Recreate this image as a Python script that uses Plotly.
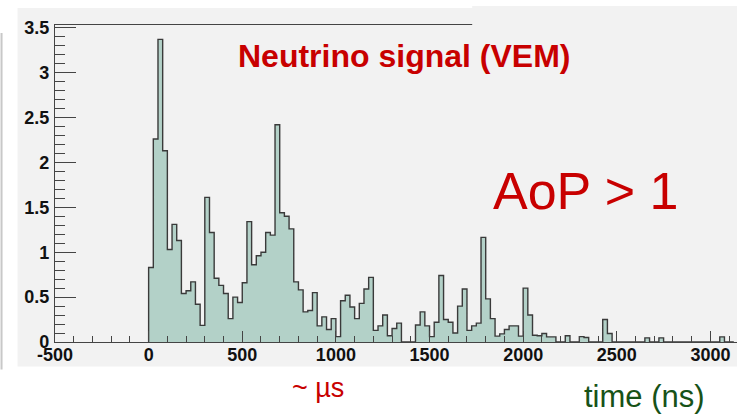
import plotly.graph_objects as go

# Neutrino-like trace: FADC signal in 25 ns bins starting at t = 0
BIN_WIDTH = 25
signal_vem = [
    0.83, 2.26, 3.37, 2.13, 1.03, 1.31, 1.13, 0.54, 0.57, 0.67,
    0.42, 0.185, 1.61, 1.22, 0.71, 0.63, 0.54, 0.26, 0.50, 0.44,
    0.66, 1.34, 0.86, 0.96, 1.00, 1.22, 1.19, 2.42, 1.44, 1.40,
    1.26, 0.67, 0.58, 0.335, 0.35, 0.55, 0.18, 0.28, 0.14, 0.26,
    0.06, 0.46, 0.52, 0.39, 0.26, 0.43, 0.59, 0.72, 0.13, 0.18,
    0.30, 0.07, 0.15, 0.21, 0.0, 0.0, 0.0, 0.19, 0.335, 0.18,
    0.06, 0.22, 0.74, 0.25, 0.22, 0.10, 0.40, 0.59, 0.13, 0.18,
    0.21, 1.165, 0.48, 0.26, 0.065, 0.09, 0.14, 0.18, 0.18, 0.065,
    0.60, 0.30, 0.076, 0.07, 0.095, 0.057, 0.057, 0.0, 0.0, 0.07,
    0.0, 0.0, 0.06, 0.05, 0.0, 0.0, 0.0, 0.25, 0.095, 0.0,
    0.0, 0.0, 0.0, 0.0, 0.0, 0.0, 0.046, 0.0, 0.0, 0.046,
    0.0, 0.0, 0.0, 0.0, 0.0, 0.0, 0.0, 0.0, 0.0, 0.0,
    0.0, 0.0, 0.057, 0.0, 0.0,
]

X_TICKS = [-500, 0, 500, 1000, 1500, 2000, 2500, 3000]
X_TICK_TEXT = ["-500", "0", "500", "1000", "1500", "2000", "2500", "3000"]
Y_TICKS = [0, 0.5, 1, 1.5, 2, 2.5, 3, 3.5]
Y_TICK_TEXT = ["0", "0.5", "1", "1.5", "2", "2.5", "3", "3.5"]

X_RANGE = [-500, 3142]
Y_RANGE = [0, 3.53]

# step outline of the histogram (ROOT style: one contour, no inner edges)
edges = [i * BIN_WIDTH for i in range(len(signal_vem) + 1)]
step_x = [0] + edges[:-1] + [edges[-1]]
step_y = [0] + signal_vem + [0]

FILL = "#B3D1C8"
OUTLINE = "#3A3A3A"
PANEL = "#F2F2F2"
AXIS = "#444444"
RED = "#C80000"
GREEN = "#175217"
SANS = "Liberation Sans, Arial, sans-serif"

W_PX, H_PX = 737, 419
L, T, R, B = 54.5, 25, 0, 76.5
PW = W_PX - L - R
PH = H_PX - T - B


def fx(p):
    return (p - L) / PW


def fy(p):
    return (H_PX - B - p) / PH


fig = go.Figure()
fig.add_trace(go.Scatter(
    x=step_x, y=step_y, mode="lines",
    line=dict(shape="hv", color=OUTLINE, width=1.4),
    fill="tozeroy", fillcolor=FILL,
    hoverinfo="skip", showlegend=False,
))

tickfont = dict(family=SANS, size=18, color="#111111", weight="bold")

fig.update_xaxes(
    range=X_RANGE, tickmode="array", tickvals=X_TICKS, ticktext=X_TICK_TEXT,
    ticks="inside", ticklen=11, tickwidth=1.2, tickcolor=AXIS,
    minor=dict(tickmode="linear", tick0=-500, dtick=100, ticks="inside",
               ticklen=6, tickwidth=1.2, tickcolor=AXIS),
    showline=True, linecolor=AXIS, linewidth=1.3, mirror=True,
    showgrid=False, zeroline=False, tickfont=tickfont,
    ticklabelstandoff=-4,
)
fig.update_yaxes(
    range=Y_RANGE, tickmode="array", tickvals=Y_TICKS, ticktext=Y_TICK_TEXT,
    ticks="inside", ticklen=21, tickwidth=1.2, tickcolor=AXIS,
    minor=dict(tickmode="linear", tick0=0, dtick=0.1, ticks="inside",
               ticklen=10, tickwidth=1.2, tickcolor=AXIS),
    showline=True, linecolor=AXIS, linewidth=1.3, mirror=False,
    showgrid=False, zeroline=False, tickfont=tickfont,
    ticklabelstandoff=1,
)

shapes = [
    # grey canvas behind the frame
    dict(type="rect", xref="paper", yref="paper", layer="below",
         x0=fx(17), x1=fx(740), y0=fy(367), y1=fy(8),
         fillcolor=PANEL, line=dict(width=0)),
    # thin border line on the far left
    dict(type="line", xref="paper", yref="paper", layer="below",
         x0=fx(1), x1=fx(1), y0=fy(370), y1=fy(33),
         line=dict(color="#C8C8C8", width=2)),
    # text box on the right, covering the top frame line
    dict(type="rect", xref="paper", yref="paper", layer="above",
         x0=fx(472), x1=fx(740), y0=fy(235), y1=fy(6),
         fillcolor=PANEL, line=dict(width=0)),
]

annotations = [
    dict(text="<b>Neutrino signal (VEM)</b>", x=fx(236), y=fy(56),
         xanchor="left", yanchor="middle",
         font=dict(family=SANS, size=32, color=RED)),
    dict(text="AoP > 1", x=fx(491), y=fy(191), xanchor="left", yanchor="middle",
         font=dict(family=SANS, size=52, color=RED)),
    dict(text="~ \u00b5s", x=fx(290), y=fy(389), xanchor="left", yanchor="middle",
         font=dict(family=SANS, size=27, color=RED)),
    dict(text="time (ns)", x=fx(582), y=fy(397), xanchor="left", yanchor="middle",
         font=dict(family=SANS, size=31, color=GREEN)),
]
for a in annotations:
    a.update(xref="paper", yref="paper", showarrow=False)

fig.update_layout(
    width=W_PX, height=H_PX,
    margin=dict(l=L, r=R, t=T, b=B, pad=0),
    paper_bgcolor="white", plot_bgcolor=PANEL,
    shapes=shapes, annotations=annotations,
    showlegend=False,
)

fig.write_html("out.html", config=dict(displayModeBar=False))
